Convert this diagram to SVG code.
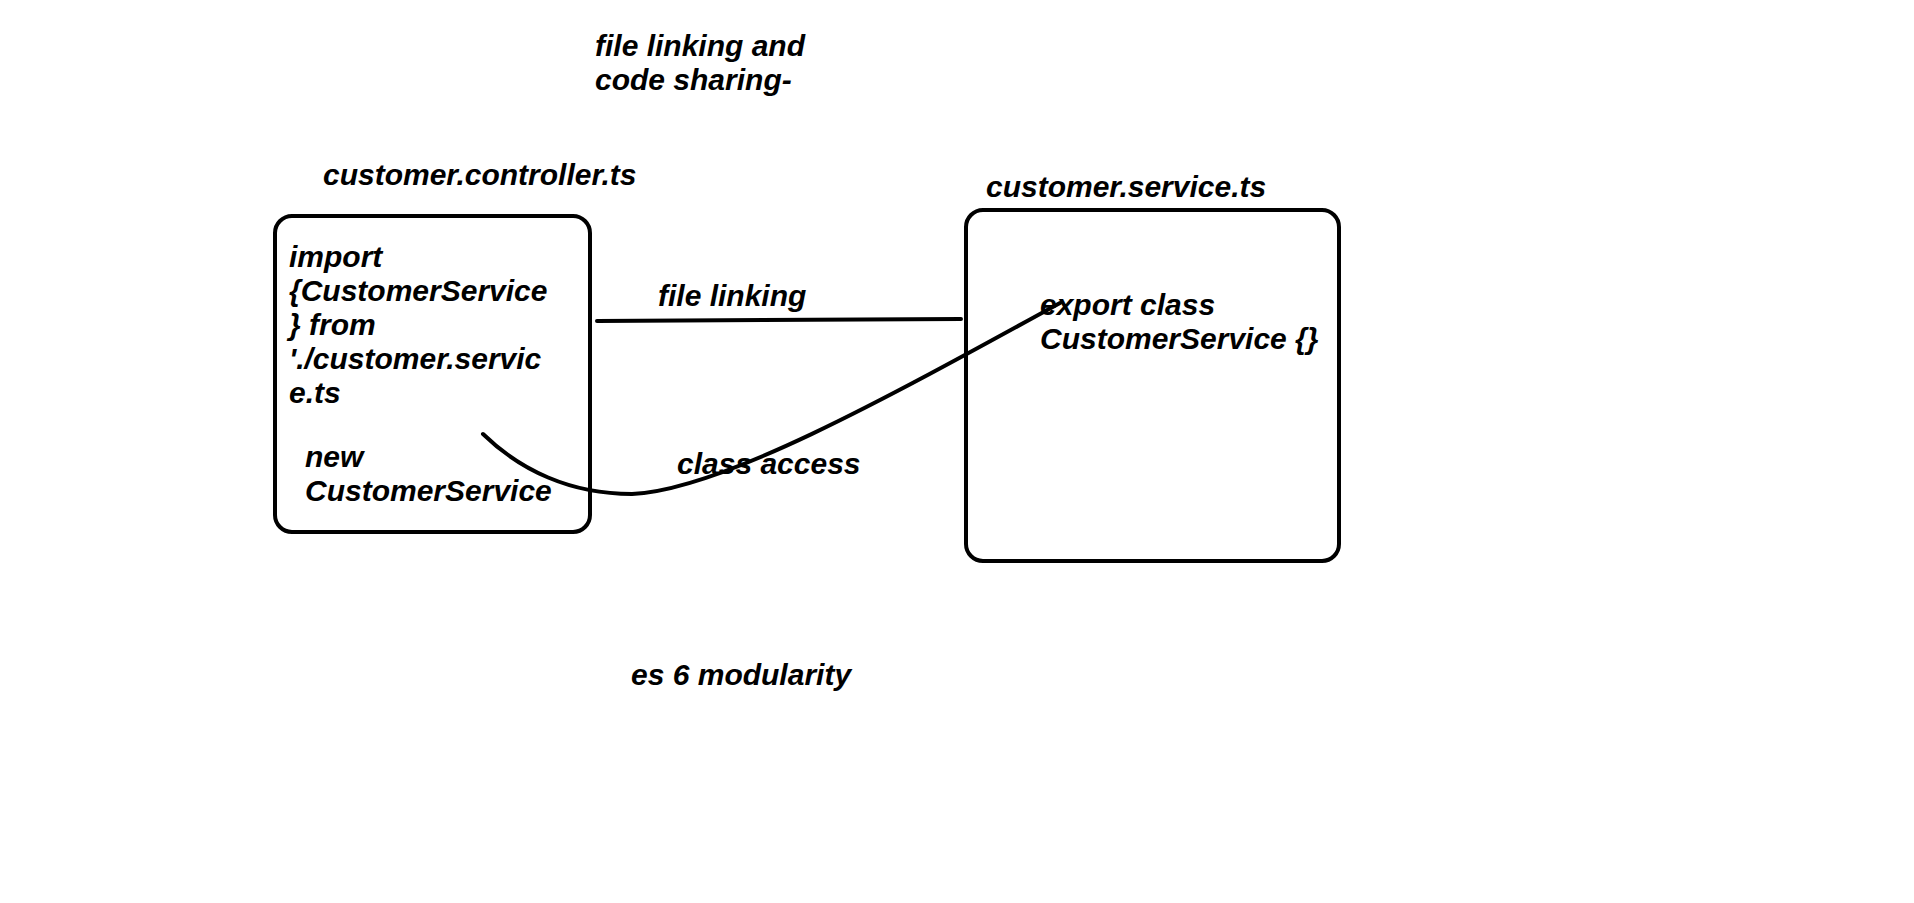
<svg xmlns="http://www.w3.org/2000/svg" width="1914" height="903" viewBox="0 0 1914 903">
<style>
text{font-family:"Liberation Sans",Arial,sans-serif;font-weight:bold;font-style:italic;font-size:30px;fill:#000}
.box{fill:none;stroke:#000;stroke-width:4}
.conn{fill:none;stroke:#000;stroke-width:4;stroke-linecap:round}
</style>
<rect width="1914" height="903" fill="#fff"/>
<g id="title">
<text x="595" y="55.5">file linking and</text>
<text x="595" y="89.5">code sharing-</text>
</g>
<g id="controller">
<text x="323" y="184.5">customer.controller.ts</text>
<rect class="box" x="275" y="216" width="315" height="316" rx="17"/>
<text x="289" y="266.5">import</text>
<text x="289" y="300.5">{CustomerService</text>
<text x="289" y="334.5">} from</text>
<text x="289" y="368.5">'./customer.servic</text>
<text x="289" y="402.5">e.ts</text>
<text x="305" y="466.5">new</text>
<text x="305" y="500.5">CustomerService</text>
</g>
<g id="service">
<text x="986" y="196.5">customer.service.ts</text>
<rect class="box" x="966" y="210" width="373" height="351" rx="17"/>
<text x="1040" y="314.5">export class</text>
<text x="1040" y="348.5">CustomerService {}</text>
</g>
<g id="connectors">
<path class="conn" d="M597,321 L961,319"/>
<path class="conn" d="M483,434 C520,470 570,494 632,494 C720,490 880,402 1060,303"/>
<text x="658" y="305.5">file linking</text>
<text x="677" y="473.5">class access</text>
</g>
<g id="footer">
<text x="631" y="684.5">es 6 modularity</text>
</g>
</svg>
